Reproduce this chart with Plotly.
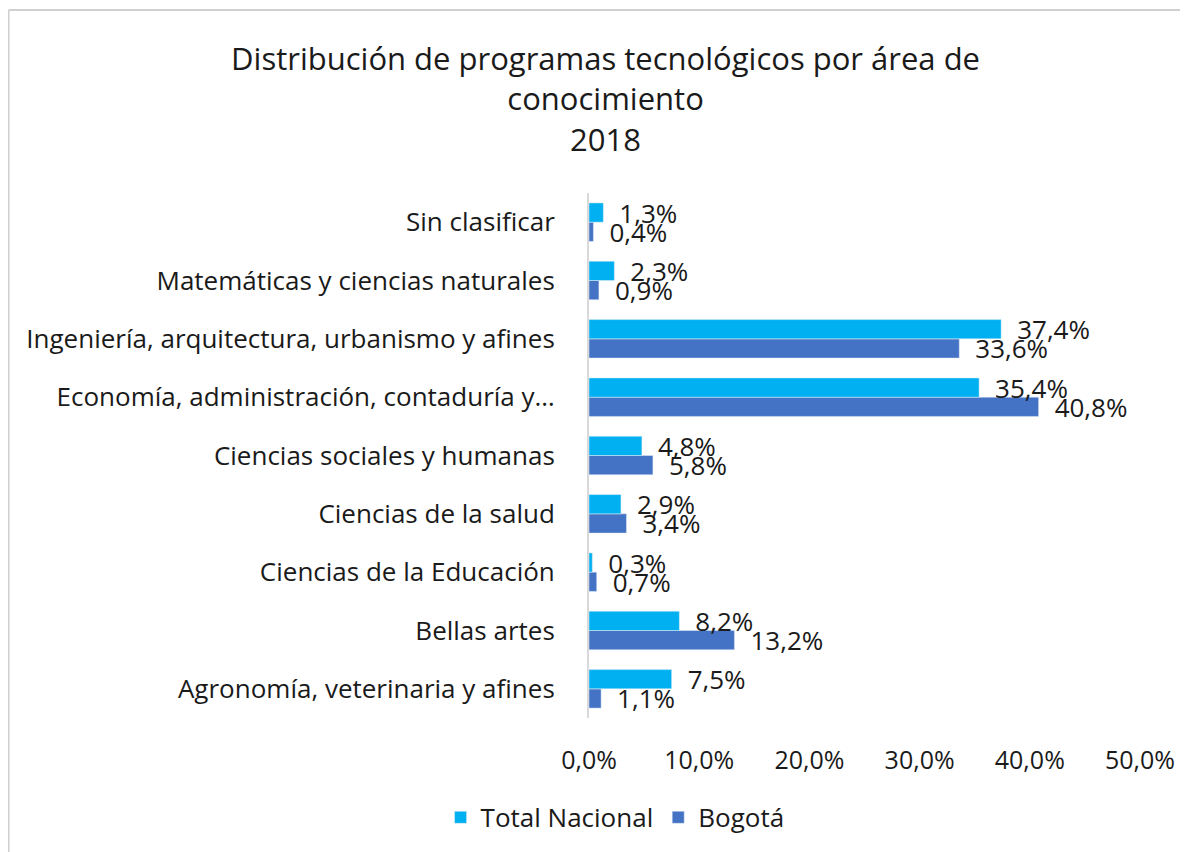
import plotly.graph_objects as go

# -----------------------------------------------------
# Data
# -----------------------------------------------------

areas = [
    "Agronomía, veterinaria y afines",
    "Bellas artes",
    "Ciencias de la Educación",
    "Ciencias de la salud",
    "Ciencias sociales y humanas",
    "Economía, administración, contaduría y…",
    "Ingeniería, arquitectura, urbanismo y afines",
    "Matemáticas y ciencias naturales",
    "Sin clasificar",
]

total_nacional = [7.5, 8.2, 0.3, 2.9, 4.8, 35.4, 37.4, 2.3, 1.3]
bogota = [1.1, 13.2, 0.7, 3.4, 5.8, 40.8, 33.6, 0.9, 0.4]

x_ticks = [0, 10, 20, 30, 40, 50]
x_tick_labels = ["0,0%", "10,0%", "20,0%", "30,0%", "40,0%", "50,0%"]

FONT = "'Open Sans', 'Noto Sans', sans-serif"
TXT = "#1a1a1a"
FS = 26

# -----------------------------------------------------
# Figure
# -----------------------------------------------------

fig = go.Figure()

# Bogotá first so it sits below Total Nacional in each group
fig.add_trace(
    go.Bar(
        y=areas,
        x=bogota,
        orientation="h",
        name="Bogotá",
        marker_color="#4472C4",
        texttemplate="\u2002%{x:.1f}%",
        textposition="outside",
        constraintext="none",
        cliponaxis=False,
        textfont=dict(size=FS, color=TXT, family=FONT),
    )
)

fig.add_trace(
    go.Bar(
        y=areas,
        x=total_nacional,
        orientation="h",
        name="Total Nacional",
        marker_color="#00B0F0",
        texttemplate="\u2002%{x:.1f}%",
        textposition="outside",
        constraintext="none",
        cliponaxis=False,
        textfont=dict(size=FS, color=TXT, family=FONT),
    )
)

# chart border (only top / left edges visible in the reference)
left_px, right_px, top_px, bot_px = 581, 1132, 185, 710
bx = (0.5 - left_px) / (right_px - left_px)
by = (bot_px - 2) / (bot_px - top_px)
border = dict(color="#D0D0D0", width=2)
fig.add_shape(type="line", xref="paper", yref="paper",
              x0=bx, x1=2, y0=by, y1=by, line=border)
fig.add_shape(type="line", xref="paper", yref="paper",
              x0=bx, x1=bx, y0=by, y1=-2, line=border)

# -----------------------------------------------------
# Layout
# -----------------------------------------------------

fig.update_layout(
    width=1188,
    height=852,
    separators=",.",
    paper_bgcolor="white",
    plot_bgcolor="white",
    font=dict(family=FONT, color=TXT, size=FS),
    barmode="group",
    bargap=0.34,
    bargroupgap=0,
    showlegend=True,
    title=dict(
        text="Distribución de programas tecnológicos por área de<br>conocimiento<br>2018",
        x=0.503,
        xref="container",
        xanchor="center",
        y=0.927,
        yref="container",
        yanchor="top",
        font=dict(size=31, color=TXT, family=FONT),
    ),
    margin=dict(l=left_px, r=1188 - right_px, t=top_px, b=852 - bot_px),
    legend=dict(
        orientation="h",
        traceorder="reversed",
        x=0.511,
        xref="container",
        xanchor="center",
        y=0.050,
        yref="container",
        yanchor="middle",
        font=dict(size=FS, color=TXT, family=FONT),
        itemwidth=30,
    ),
    xaxis=dict(
        range=[0, 50],
        tickvals=x_ticks,
        ticktext=x_tick_labels,
        showgrid=False,
        zeroline=False,
        showline=False,
        ticks="",
        ticklabelstandoff=25,
        tickfont=dict(size=25, color=TXT),
        fixedrange=True,
    ),
    yaxis=dict(
        showgrid=False,
        showline=True,
        linecolor="#D9D9D9",
        linewidth=2,
        ticks="",
        ticklabelstandoff=27,
        tickfont=dict(size=FS, color=TXT),
        categoryorder="array",
        categoryarray=areas,
    ),
)

fig.write_html("out.html")
